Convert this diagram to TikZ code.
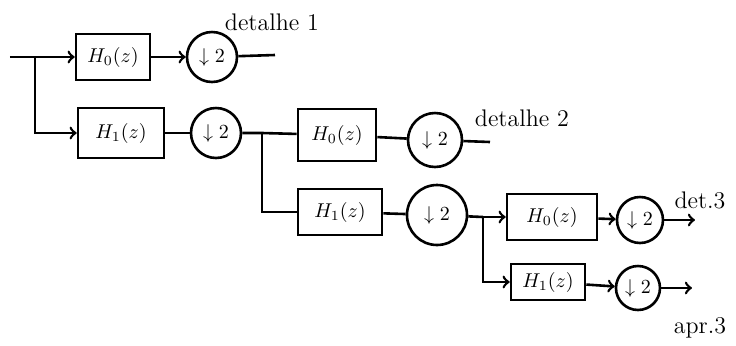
\documentclass[tikz,border=0pt]{standalone}
\usepackage{amsmath}
\usepackage{tikz}

\begin{document}
\begin{tikzpicture}[x=0.5pt, y=-0.5pt, line width=1.3pt,
    filt/.style={draw, line width=1.3pt, minimum width=40pt, minimum height=23pt, inner sep=1pt},
    down/.style={draw, circle, line width=1.3pt, minimum size=25pt, inner sep=0pt},
    etiq/.style={font=\large}]
    % MARGES DEL DIBUIX
    \useasboundingbox (0,0) rectangle (736,345);

    % PRIMER NIVELL
    \coordinate (in) at (10,57);
    \coordinate (sp1) at (35,57);
    \node[filt, minimum width=37pt] (h0a) at (113,57) {$H_0(z)$};
    \node[filt, minimum width=43pt, minimum height=25pt] (h1a) at (121,133) {$H_1(z)$};
    \node[down] (d0a) at (212,57) {$\downarrow 2$};
    \node[down] (d1a) at (216,133) {$\downarrow 2$};
    \coordinate (o1) at (275,55);
    \node[etiq] (det1) at (272,22) {detalhe 1};
    \draw (in) -- (sp1);
    \draw[->] (sp1) -- (h0a);
    \draw[->] (sp1) |- (h1a);
    \draw[->] (h0a) -- (d0a);
    \draw (d0a) -- (o1);
    \draw (h1a) -- (d1a);

    % SEGON NIVELL
    \coordinate (sp2) at (262,133);
    \node[filt, minimum width=39pt, minimum height=26pt] (h0b) at (337,135) {$H_0(z)$};
    \node[filt, minimum width=42pt] (h1b) at (340,212) {$H_1(z)$};
    \node[down, minimum size=27pt] (d0b) at (435,140) {$\downarrow 2$};
    \node[down, minimum size=30pt] (d1b) at (437,215) {$\downarrow 2$};
    \coordinate (o2) at (490,142);
    \node[etiq] (det2) at (522,118) {detalhe 2};
    \draw (d1a) -- (sp2) -- (h0b);
    \draw (sp2) |- (h1b);
    \draw (h0b) -- (d0b) -- (o2);
    \draw (h1b) -- (d1b);

    % TERCER NIVELL
    \coordinate (sp3) at (483,217);
    \node[filt, minimum width=45pt] (h0c) at (552,217) {$H_0(z)$};
    \node[filt, minimum width=37pt, minimum height=18pt] (h1c) at (548,282) {$H_1(z)$};
    \node[down, minimum size=23pt] (d0c) at (640,220) {$\downarrow 2$};
    \node[down, minimum size=22pt] (d1c) at (638,288) {$\downarrow 2$};
    \coordinate (o3) at (695,220);
    \coordinate (o4) at (692,288);
    \node[etiq] (det3) at (700,200) {det.3};
    \node[etiq] (apr3) at (700,328) {apr.3};
    \draw (d1b) -- (sp3);
    \draw[->] (sp3) -- (h0c);
    \draw[->] (sp3) |- (h1c);
    \draw[->] (h0c) -- (d0c);
    \draw[->] (d0c) -- (o3);
    \draw[->] (h1c) -- (d1c);
    \draw[->] (d1c) -- (o4);
\end{tikzpicture}
\end{document}
